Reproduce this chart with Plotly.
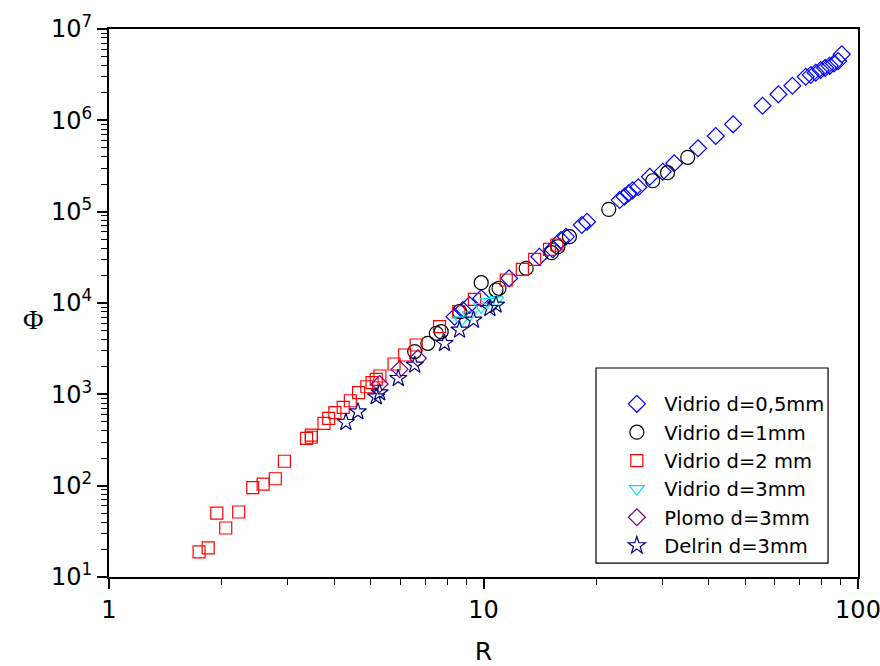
import plotly.graph_objects as go

# Vidrio d=0,5mm
r_v05 = [8.37, 8.81, 9.18, 9.86, 11.7, 14.1, 15.3, 16.1, 16.6, 18.3, 18.9, 23.1, 23.8, 24.4, 25.0,
         25.9, 27.8, 30.1, 32.3, 37.4, 41.7, 46.4, 55.6, 61.3, 66.8, 72.5, 74.8, 77.1, 79.5,
         81.7, 84.0, 86.3, 88.5, 90.5]
p_v05 = [7080, 8380, 9500, 11250, 18620, 32100, 38700, 48900, 53200, 71400, 77600, 134000, 146000,
         159000, 171000, 185000, 241000, 274000, 339000, 494000, 673000, 904000, 1.445e6, 1.93e6,
         2.39e6, 3.0e6, 3.14e6, 3.32e6, 3.56e6, 3.75e6, 3.95e6, 4.2e6, 4.45e6, 5.28e6]

# Vidrio d=1mm
r_v1 = [6.55, 7.10, 7.48, 7.71, 8.63, 9.86, 10.8, 11.0, 13.0, 15.2, 15.8, 16.96, 21.6, 28.3, 31.0, 35.1]
p_v1 = [2940, 3620, 4660, 4850, 8030, 16700, 13870, 14500, 23990, 35560, 41300, 53200, 106000,
        218000, 267000, 394000]

# Vidrio d=2 mm
r_v2 = [1.74, 1.84, 1.94, 2.05, 2.22, 2.42, 2.58, 2.78, 2.94, 3.37, 3.47, 3.47, 3.75, 3.86, 4.01,
        4.22, 4.41, 4.64, 4.88, 5.04, 5.17, 5.29, 5.77, 6.16, 6.61, 7.63, 8.59, 9.46, 11.5, 12.7,
        13.7, 15.0, 15.7]
p_v2 = [18.8, 20.8, 50, 34.4, 51.5, 95, 104, 119, 185, 330, 339, 358, 482, 546, 630, 721, 851, 1042,
        1211, 1340, 1459, 1588, 2148, 2697, 3467, 5500, 8035, 10970, 17860, 23380, 30080, 38700, 43150]

# Vidrio d=3mm
r_v3 = [8.72, 9.18, 9.86, 10.27, 10.81]
p_v3 = [6510, 7390, 9100, 10300, 10780]

# Plomo d=3mm
r_pb = [5.28, 5.97, 6.68]
p_pb = [1297, 1879, 2480]

# Delrin d=3mm
r_de = [4.29, 4.62, 5.17, 5.28, 5.92, 6.55, 7.87, 8.63, 9.40, 10.4, 10.8]
p_de = [494, 646, 942, 1042, 1497, 2094, 3620, 5060, 6510, 8750, 9510]

series = [
    ("Vidrio d=0,5mm", r_v05, p_v05, "diamond-open", "#0000FF", 13),
    ("Vidrio d=1mm", r_v1, p_v1, "circle-open", "#000000", 14),
    ("Vidrio d=2 mm", r_v2, p_v2, "square-open", "#FF0000", 12),
    ("Vidrio d=3mm", r_v3, p_v3, "triangle-down-open", "#00E5EE", 13),
    ("Plomo d=3mm", r_pb, p_pb, "diamond-open", "#800080", 13),
    ("Delrin d=3mm", r_de, p_de, "star-open", "#000080", 13),
]

y_tickvals = [10, 100, 1000, 1e4, 1e5, 1e6, 1e7]
y_ticktext = ["10<sup>1</sup>", "10<sup>2</sup>", "10<sup>3</sup>", "10<sup>4</sup>",
              "10<sup>5</sup>", "10<sup>6</sup>", "10<sup>7</sup>"]
x_tickvals = [1, 10, 100]
x_ticktext = ["1", "10", "100"]
mantissas = [2, 3, 4, 5, 6, 7, 8, 9]
x_minor = [m * 10 ** e for e in range(0, 2) for m in mantissas]
y_minor = [m * 10 ** e for e in range(1, 7) for m in mantissas]

fig = go.Figure()
for name, xs, ys, sym, col, sz in series:
    fig.add_trace(go.Scatter(
        x=xs, y=ys, mode="markers", name=name,
        marker=dict(symbol=sym, size=sz, color=col, line=dict(width=1.2, color=col)),
    ))

font_main = "DejaVu Sans, Liberation Sans, Arial, sans-serif"
axis_common = dict(
    showline=True, linecolor="black", linewidth=2, mirror=True,
    ticks="outside", ticklen=10, tickwidth=1.5, tickcolor="black",
    showgrid=False, zeroline=False, ticklabeloverflow="allow", automargin=False,
    tickfont=dict(family=font_main, size=24, color="black"),
)

fig.update_xaxes(type="log", range=[0, 2], tickvals=x_tickvals, ticktext=x_ticktext,
                 minor=dict(tickmode="array", tickvals=x_minor, ticks="outside", ticklen=6,
                            tickwidth=1.2, tickcolor="black", showgrid=False),
                 title=dict(text="R", font=dict(family=font_main, size=25, color="black"), standoff=20),
                 **axis_common)
fig.update_yaxes(type="log", range=[1, 7], tickvals=y_tickvals, ticktext=y_ticktext,
                 minor=dict(tickmode="array", tickvals=y_minor, ticks="outside", ticklen=6,
                            tickwidth=1.2, tickcolor="black", showgrid=False),
                 **axis_common)

fig.add_annotation(text="Φ", xref="paper", yref="paper", x=-0.118, y=0.47,
                   showarrow=False, font=dict(family="Liberation Serif, Times New Roman, serif",
                                               size=28, color="black"))

# legend frame
fig.add_shape(type="rect", xref="paper", yref="paper", x0=0.6502, x1=0.960, y0=0.0255, y1=0.3814,
              line=dict(color="black", width=1.2), fillcolor="white", layer="above")

fig.update_layout(
    width=880, height=666,
    margin=dict(l=109, r=22, t=29, b=89, autoexpand=False),
    paper_bgcolor="white", plot_bgcolor="white",
    legend=dict(x=0.668, y=0.351, xanchor="left", yanchor="top", itemwidth=45,
                bgcolor="rgba(0,0,0,0)", borderwidth=0, tracegroupgap=0,
                font=dict(family=font_main, size=19.5, color="black")),
)

fig.write_html("out.html")
